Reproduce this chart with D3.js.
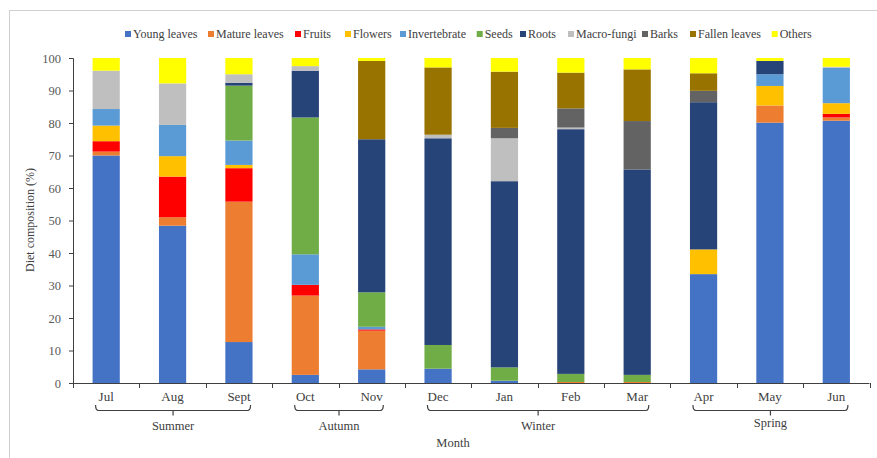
<!DOCTYPE html>
<html>
<head>
<meta charset="utf-8">
<script src="https://cdn.jsdelivr.net/npm/d3@7/dist/d3.min.js"></script>
<style>
  html, body { margin: 0; padding: 0; background: #fff; }
  svg { display: block; }
</style>
</head>
<body>
<svg id="chart" width="877" height="458"></svg>
<script>
const months = ["Jul","Aug","Sept","Oct","Nov","Dec","Jan","Feb","Mar","Apr","May","Jun"];
const categories = ["Young leaves","Mature leaves","Fruits","Flowers","Invertebrate","Seeds","Roots","Macro-fungi","Barks","Fallen leaves","Others"];
const colors = ["#4472C4","#ED7D31","#FF0000","#FFC000","#5B9BD5","#70AD47","#264478","#BFBFBF","#636363","#997300","#FFFF00"];

// values per category, in month order (Jul..Jun), percent
const youngLeaves  = [70.0, 48.4, 12.6,  2.5,  4.2,  4.4,  0.7,  0,    0,    33.5, 80.1, 80.7];
const matureLeaves = [ 1.2,  2.6, 43.2, 24.4, 11.9,  0,    0,    0.3,  0.3,  0,     5.3,  1.0];
const fruits       = [ 3.2, 12.5, 10.3,  3.3,  0.4,  0,    0,    0,    0,    0,     0,    1.1];
const flowers      = [ 4.8,  6.3,  1.0,  0,    0,    0,    0,    0,    0,    7.6,   6.0,  3.3];
const invertebrate = [ 5.1,  9.6,  7.5,  9.4,  0.8,  0,    0,    0,    0,    0,     3.6, 10.9];
const seeds        = [ 0,    0,   16.9, 42.1, 10.6,  7.3,  4.1,  2.5,  2.2,  0,     0,    0];
const roots        = [ 0,    0,    0.9, 14.4, 47.1, 63.6, 57.3, 75.3, 63.2, 45.3,  4.1,  0];
const macroFungi   = [11.8, 12.8,  2.6,  1.4,  0,    1.1, 13.2,  0.5,  0,    0,     0,    0.3];
const barks        = [ 0,    0,    0,    0,    0,    0,    3.2,  5.9, 14.9,  3.5,   0,    0];
const fallenLeaves = [ 0,    0,    0,    0,   24.1, 20.7, 17.3, 11.0, 15.9,  5.4,   0,    0];
const others       = [ 3.9,  7.8,  5.0,  2.5,  0.9,  2.9,  4.2,  4.5,  3.5,  4.7,   0.9,  2.7];

const yTicks = [0,10,20,30,40,50,60,70,80,90,100];
const seasons = ["Summer","Autumn","Winter","Spring"];
const seasonFrom = ["Jul","Oct","Dec","Apr"];
const seasonTo = ["Sept","Nov","Mar","Jun"];

(function () {
const FONT = "'Liberation Serif', 'DejaVu Serif', 'Times New Roman', serif";
const seriesValues = [youngLeaves, matureLeaves, fruits, flowers, invertebrate, seeds, roots, macroFungi, barks, fallenLeaves, others];
const table = months.map((m, i) => {
  const row = { month: m };
  categories.forEach((c, k) => row[c] = seriesValues[k][i]);
  return row;
});

const svg = d3.select("#chart").attr("font-family", FONT);

// frame of screenshot
svg.append("line").attr("x1", 9).attr("x2", 877).attr("y1", 10.5).attr("y2", 10.5)
  .attr("stroke", "#d0d0d0").attr("stroke-width", 1);
svg.append("line").attr("x1", 9.5).attr("x2", 9.5).attr("y1", 10).attr("y2", 458)
  .attr("stroke", "#d0d0d0").attr("stroke-width", 1);

const pLeft = 73, pRight = 869.5, pTop = 58, pBottom = 383;
const x = d3.scaleBand().domain(months).range([pLeft, pRight]).paddingInner(0.59).paddingOuter(0.295);
const y = d3.scaleLinear().domain([0, 100]).range([pBottom, pTop]);
const color = d3.scaleOrdinal().domain(categories).range(colors);

const layers = d3.stack().keys(categories)(table);

svg.append("g").selectAll("g").data(layers).join("g")
  .attr("fill", d => color(d.key))
  .selectAll("rect").data(d => d).join("rect")
  .attr("x", d => x(d.data.month))
  .attr("width", x.bandwidth())
  .attr("y", d => y(d[1]))
  .attr("height", d => Math.max(0, y(d[0]) - y(d[1])));

function txt(sel, size) {
  return sel.attr("font-family", FONT).style("font-family", FONT).style("font-size", size + "px").attr("fill", "#404040");
}

// Y axis
const yAxis = svg.append("g").attr("transform", `translate(${pLeft},0)`)
  .call(d3.axisLeft(y).tickValues(yTicks).tickSize(4).tickPadding(8));
yAxis.attr("font-family", FONT);
yAxis.select(".domain").attr("stroke", "#404040");
yAxis.selectAll(".tick line").attr("stroke", "#404040");
txt(yAxis.selectAll(".tick text"), 12.5).attr("fill", "#595959");

// X axis line and boundary ticks
const step = x.step();
const xg = svg.append("g");
xg.append("line").attr("x1", pLeft).attr("x2", pRight).attr("y1", pBottom + 0.5).attr("y2", pBottom + 0.5)
  .attr("stroke", "#404040");
d3.range(months.length + 1).forEach(i => {
  const xx = Math.round(pLeft + i * step) + 0.5;
  xg.append("line").attr("x1", xx).attr("x2", xx).attr("y1", pBottom).attr("y2", pBottom + 5)
    .attr("stroke", "#404040");
});
txt(xg.selectAll("text.month").data(months).join("text")
  .attr("class", "month")
  .attr("x", d => x(d) + x.bandwidth() / 2)
  .attr("y", 401)
  .attr("text-anchor", "middle"), 13)
  .text(d => d);

// season brackets
seasons.forEach((s, i) => {
  const x1 = x(seasonFrom[i]) + 3;
  const x2 = x(seasonTo[i]) + x.bandwidth() - 2;
  const xm = (x1 + x2) / 2;
  const yTop = 405, yLine = 410.5, r = 3;
  const p = d3.path();
  p.moveTo(x1, yTop);
  p.quadraticCurveTo(x1, yLine, x1 + r, yLine);
  p.lineTo(x2 - r, yLine);
  p.quadraticCurveTo(x2, yLine, x2, yTop);
  p.moveTo(xm, yLine);
  p.lineTo(xm, yLine + 5);
  svg.append("path").attr("d", p.toString()).attr("fill", "none")
    .attr("stroke", "#404040").attr("stroke-width", 1.2);
  txt(svg.append("text").attr("x", xm).attr("y", i === 3 ? 427 : 430)
    .attr("text-anchor", "middle"), 12.5).text(s);
});

// axis titles
txt(svg.append("text").attr("x", 453).attr("y", 447).attr("text-anchor", "middle"), 12.5).text("Month");
txt(svg.append("text").attr("transform", "translate(34,220) rotate(-90)")
  .attr("text-anchor", "middle"), 12)
  .text("Diet composition (%)");

// legend
const legendX = [125, 208, 295, 345, 400, 476.7, 520, 568, 642, 690, 771.7];
const lg = svg.append("g");
categories.forEach((c, i) => {
  const g = lg.append("g").attr("transform", `translate(${legendX[i]},34)`);
  g.append("rect").attr("x", 0).attr("y", -3).attr("width", 6).attr("height", 6).attr("fill", color(c));
  txt(g.append("text").attr("x", 8).attr("y", 4), 12).text(c);
});
})();
</script>
</body>
</html>
